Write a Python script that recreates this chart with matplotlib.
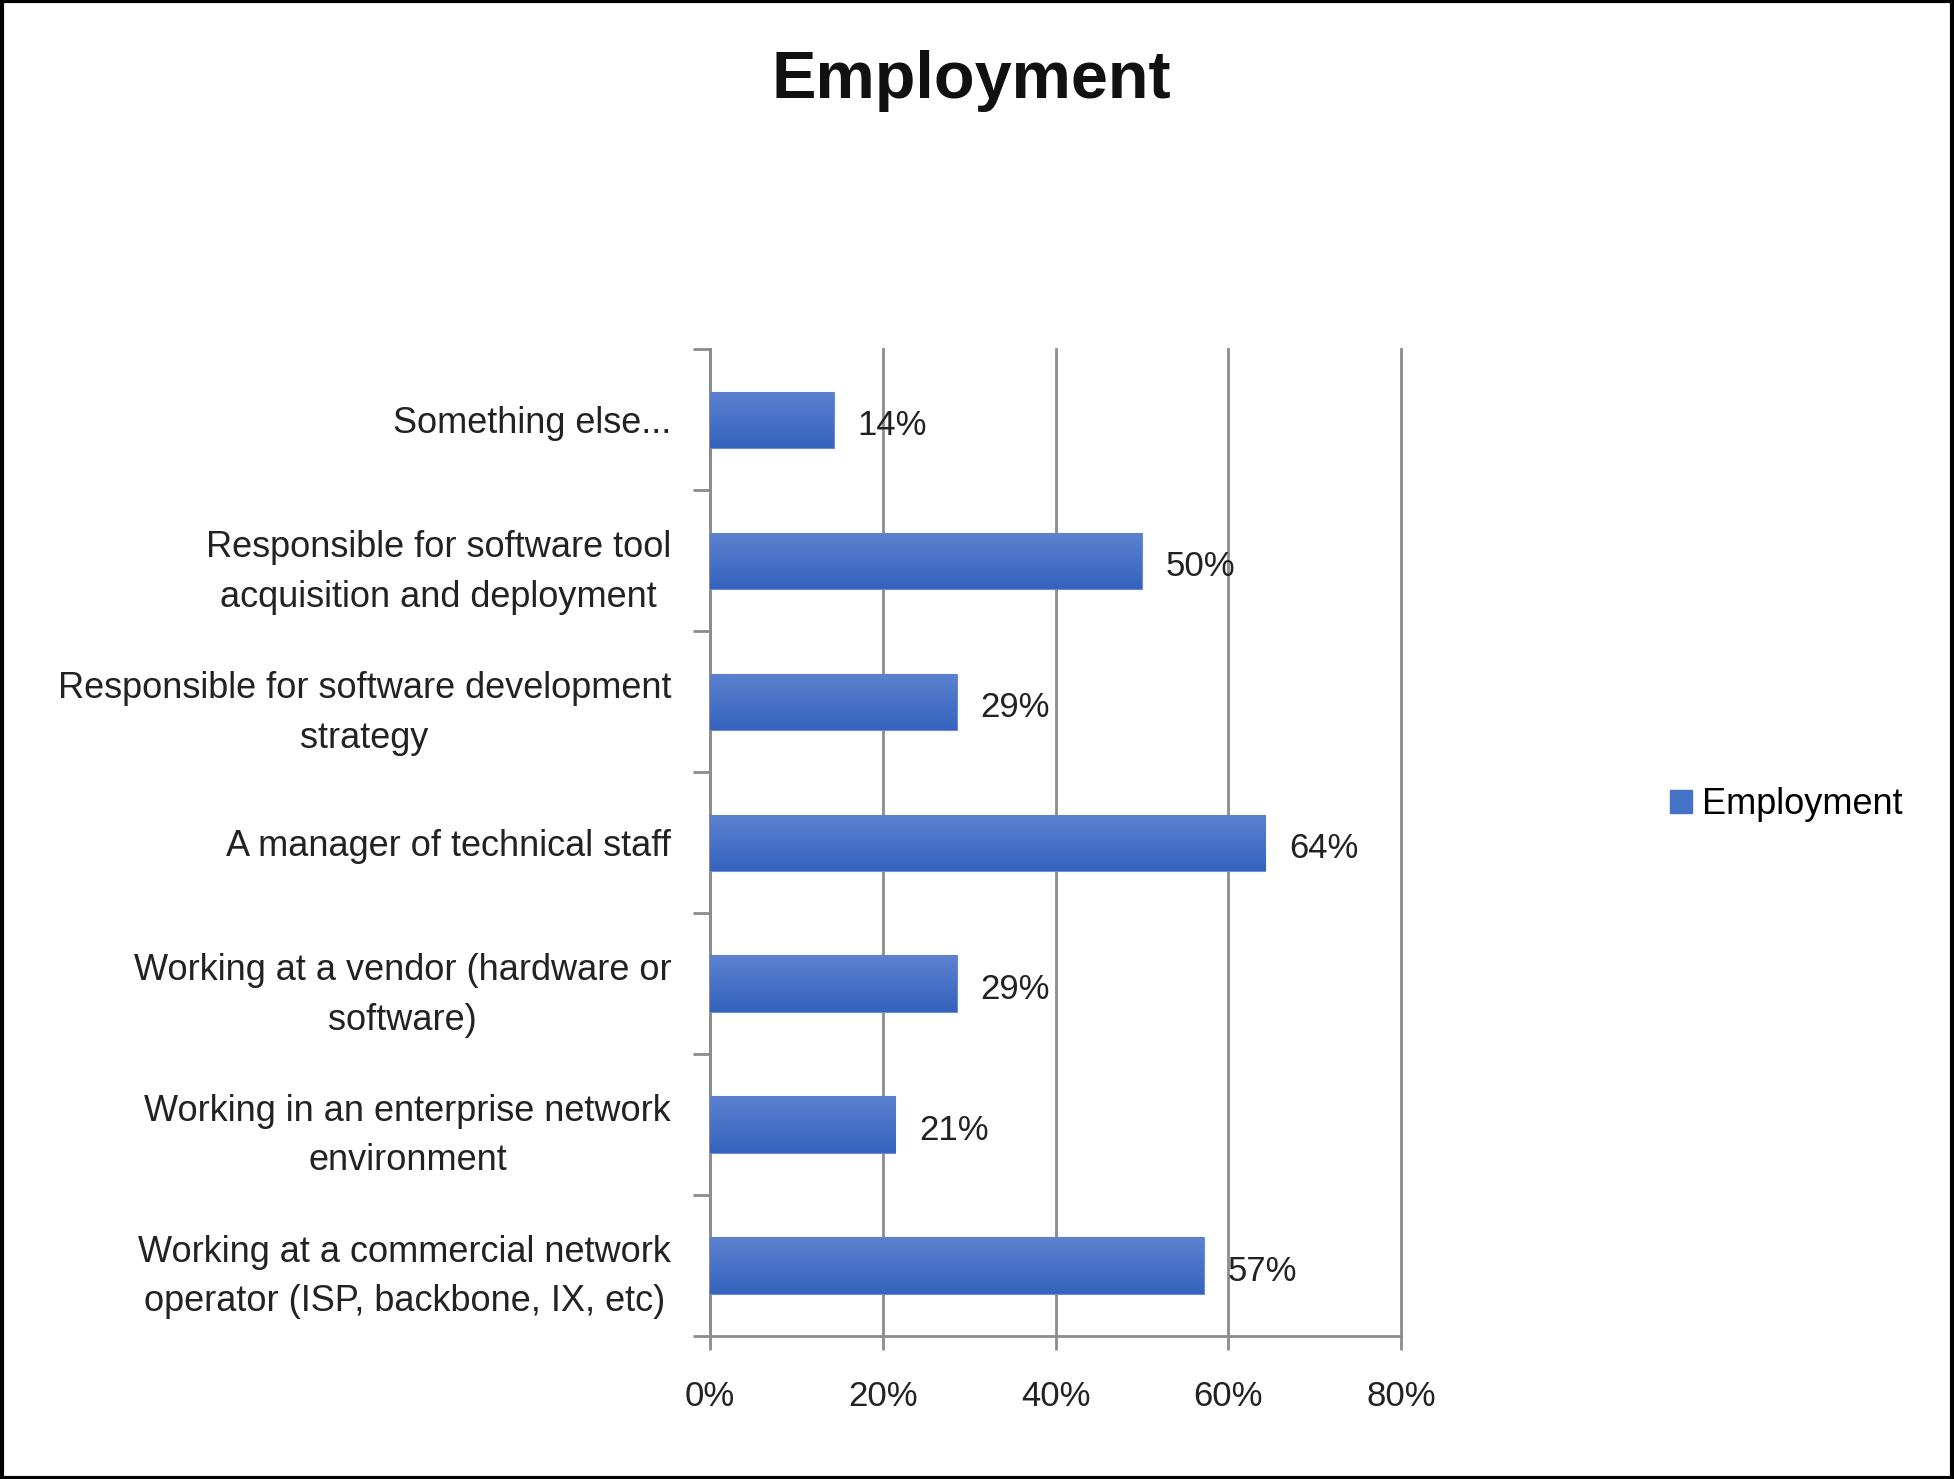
import matplotlib
matplotlib.use("Agg")
import matplotlib.pyplot as plt
import numpy as np
from matplotlib.patches import Rectangle
from matplotlib.colors import LinearSegmentedColormap

categories = [
    "Something else...",
    "Responsible for software tool\nacquisition and deployment",
    "Responsible for software development\nstrategy",
    "A manager of technical staff",
    "Working at a vendor (hardware or\nsoftware)",
    "Working in an enterprise network\nenvironment",
    "Working at a commercial network\noperator (ISP, backbone, IX, etc)",
]
values = [14.29, 50.0, 28.57, 64.29, 28.57, 21.43, 57.14]
labels = ["14%", "50%", "29%", "64%", "29%", "21%", "57%"]
xticks = [0, 20, 40, 60, 80]
series_name = "Employment"
title = "Employment"

plt.rcParams['font.family'] = ['Liberation Sans', 'DejaVu Sans']

fig = plt.figure(figsize=(19.54, 14.79), dpi=100)
ax = fig.add_axes([0.3634, 0.0967, 0.3537, 0.667])

n = len(categories)
ypos = np.arange(n)[::-1]  # first category at top
bars = ax.barh(ypos, values, height=0.4, color="#4472C4", edgecolor="#6a8fd8",
               linewidth=0.8, label=series_name, zorder=3)

cmap = LinearSegmentedColormap.from_list("g", ["#5c82d0", "#3563bd"])
grad = np.linspace(0, 1, 64).reshape(-1, 1)
for b in bars:
    x0, y0 = b.get_x(), b.get_y()
    w, h = b.get_width(), b.get_height()
    im = ax.imshow(grad, cmap=cmap, aspect="auto", extent=(x0, x0 + w, y0, y0 + h),
                   origin="upper", zorder=3.5)
    im.set_clip_path(b)

for y, v, lab in zip(ypos, values, labels):
    ax.annotate(lab, (v, y), xytext=(17, -4), textcoords="offset points",
                ha="left", va="center", fontsize=25, color="#222222", zorder=5)

ax.set_xlim(0, 80)
ax.set_ylim(-0.5, n - 0.5)
ax.set_xticks(xticks)
ax.set_xticklabels([f"{t}%" for t in xticks], fontsize=25, color="#222222")
ax.set_yticks(ypos)
ax.set_yticklabels(categories, fontsize=26, color="#222222", linespacing=1.55)
ax.set_yticks(np.arange(-0.5, n, 1.0), minor=True)
ax.tick_params(axis="y", which="major", length=0, pad=28)
ax.tick_params(axis="y", which="minor", length=12, width=2, color="#8c8c8c", direction="out")
ax.tick_params(axis="x", which="major", length=10, width=2, color="#8c8c8c", pad=22)

ax.grid(axis="x", color="#8c8c8c", linewidth=2, zorder=0)
for gl in ax.get_xgridlines():
    gl.set_clip_on(False)
ax.set_axisbelow(True)
for s in ["top", "right"]:
    ax.spines[s].set_visible(False)
for s in ["left", "bottom"]:
    ax.spines[s].set_color("#8c8c8c")
    ax.spines[s].set_linewidth(2)

for t in ax.get_yticklabels():
    t.set_multialignment("center")

fig.text(0.497, 0.945, title, ha="center", va="center", fontsize=48, fontweight="bold",
         color="#111111")

leg = fig.legend(handles=[Rectangle((0, 0), 1, 1, color="#4472C4")], labels=[series_name],
                 loc="center left", bbox_to_anchor=(0.838, 0.456), frameon=False,
                 fontsize=26, handlelength=0.6, handleheight=0.6, handletextpad=0.3)

fig.add_artist(Rectangle((0.001, 0.001), 0.998, 0.998, transform=fig.transFigure,
                         fill=False, edgecolor="black", linewidth=3))

fig.savefig("out.png", dpi=100)
